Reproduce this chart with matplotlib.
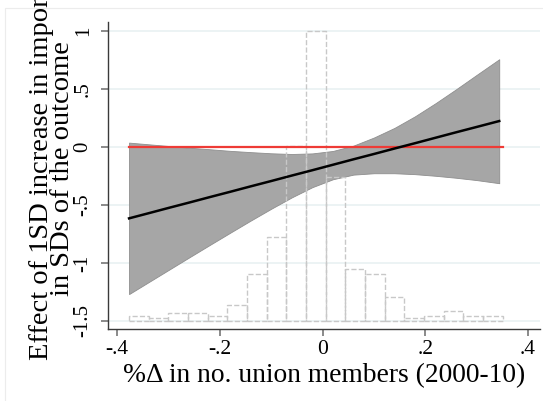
import numpy as np
import matplotlib
matplotlib.use("Agg")
from matplotlib import pyplot as plt
from matplotlib.patches import Rectangle

# histogram of the moderator (counts per bin, 19 bins between min and max)
hist_min = -0.377
hist_max = 0.351
hist_counts = [2, 1, 3, 3, 2, 6, 18, 32, 67, 111, 55, 20, 18, 9, 1, 2, 4, 2, 2]

# marginal effect and 95% CI
x_vals = [-0.377, -0.34, -0.30, -0.26, -0.22, -0.18, -0.14, -0.10, -0.06, -0.02,
          0.02, 0.06, 0.10, 0.14, 0.18, 0.22, 0.26, 0.30, 0.344]
effect = [-0.615, -0.572, -0.525, -0.479, -0.432, -0.386, -0.339, -0.293, -0.246, -0.200,
          -0.153, -0.106, -0.060, -0.013, 0.033, 0.080, 0.127, 0.173, 0.224]
ci_upper = [0.038, 0.024, 0.009, -0.006, -0.019, -0.033, -0.044, -0.054, -0.060, -0.055,
            -0.034, 0.012, 0.082, 0.165, 0.265, 0.378, 0.498, 0.622, 0.757]
ci_lower = [-1.268, -1.168, -1.060, -0.952, -0.845, -0.739, -0.634, -0.532, -0.434, -0.346,
            -0.278, -0.238, -0.226, -0.226, -0.234, -0.248, -0.265, -0.285, -0.312]

x_ticks = [-0.4, -0.2, 0, 0.2, 0.4]
x_ticklabels = ['-.4', '-.2', '0', '.2', '.4']
y_ticks = [-1.5, -1, -0.5, 0, 0.5, 1]
y_ticklabels = ['-1.5', '-1', '-.5', '0', '.5', '1']

serif = ['Liberation Serif', 'DejaVu Serif']

fig = plt.figure(figsize=(5.43, 4.01), dpi=100)
fig.patches.append(Rectangle((5/543, -0.1), 1.2, 1 - 8/401 + 0.1, transform=fig.transFigure,
                             fill=False, edgecolor='#ececec', lw=0.8))
ax = fig.add_axes([108/543, 1 - 329/401, 432/543, 307/401])

# grid
for yt in y_ticks:
    ax.axhline(yt, color='#e9f1f2', lw=1.2, zorder=0)

# CI band
ax.fill_between(x_vals, ci_lower, ci_upper, facecolor='#a6a6a6', edgecolor='#8e8e8e',
                lw=0.6, zorder=1)

# histogram, scaled from -1.5 up to 1
edges = np.linspace(hist_min, hist_max, len(hist_counts) + 1)
counts = np.array(hist_counts, dtype=float)
heights = counts / counts.max() * 2.5
ax.bar(edges[:-1], heights, width=np.diff(edges), align='edge', bottom=-1.5,
       fill=False, edgecolor='#c8c8c8', linestyle='--', lw=1.0, zorder=2)

ax.plot([x_vals[0], hist_max], [0, 0], color='#ee3b36', lw=1.6, zorder=3)
ax.plot(x_vals, effect, color='black', lw=1.8, zorder=4)

ax.set_xlim(-0.418, 0.4234)
ax.set_ylim(-1.569, 1.078)

for s in ['top', 'right']:
    ax.spines[s].set_visible(False)
for s in ['left', 'bottom']:
    ax.spines[s].set_color('#3a3a3a')
    ax.spines[s].set_linewidth(1.0)

ax.set_xticks(x_ticks)
ax.set_xticklabels(x_ticklabels, fontfamily=serif, fontsize=15.5)
ax.set_yticks(y_ticks)
ax.set_yticklabels(y_ticklabels, fontfamily=serif, fontsize=15, rotation=90, va='center')
ax.tick_params(axis='both', length=5, width=1.2, color='#777777', pad=3)
ax.tick_params(axis='y', pad=6)

ax.set_xlabel('%Δ in no. union members (2000-10)', fontfamily=serif, fontsize=19.8, labelpad=3)

fig.text(52/543, 1 - 169/401, 'Effect of 1SD increase in imports\nin SDs of the outcome',
         rotation=90, ha='center', va='center', multialignment='center',
         linespacing=0.8, fontfamily=serif, fontsize=20.5)

fig.savefig('out.png', dpi=100)
